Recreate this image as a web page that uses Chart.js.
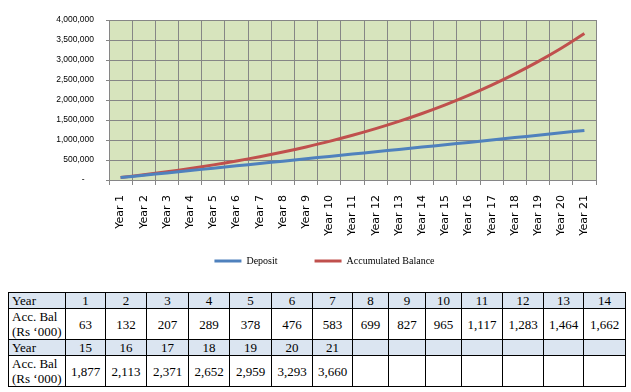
<!DOCTYPE html>
<html>
<head>
<meta charset="utf-8">
<script src="https://cdn.jsdelivr.net/npm/chart.js@4/dist/chart.umd.min.js"></script>
<style>
  html, body { margin: 0; padding: 0; background: #fff; }
  #wrap { position: absolute; left: 0; top: 0; width: 631px; height: 300px; }
  #tbl {
    position: absolute; left: 8px; top: 292px; width: 617px;
    border-collapse: collapse; table-layout: fixed;
    font-family: "Liberation Serif", "Times New Roman", serif; font-size: 13px; color: #000;
    background: #fff; z-index: 2;
  }
  #tbl td { border: 1px solid #000; padding: 0; text-align: center; line-height: 15px; white-space: nowrap; overflow: hidden; }
  #tbl td.lbl { text-align: left; padding-left: 3px; }
  #tbl tr.hdr td { background: #DBE5F1; height: 14px; }
  #tbl tr.val td { height: 30px; }
  #tbl tr.val2 td { height: 29px; }
</style>
</head>
<body>
<div id="wrap"><canvas id="c" width="631" height="300"></canvas></div>
<table id="tbl"></table>
<script>
const years = ["Year 1","Year 2","Year 3","Year 4","Year 5","Year 6","Year 7","Year 8","Year 9","Year 10","Year 11","Year 12","Year 13","Year 14","Year 15","Year 16","Year 17","Year 18","Year 19","Year 20","Year 21"];
const deposit = [60000,118000,177000,236000,295000,354000,413000,470000,530000,590000,648000,706000,765000,825000,880000,940000,1000000,1060000,1120000,1180000,1240000];
const accBalance = [63000,132000,207000,289000,378000,476000,583000,699000,827000,965000,1117000,1283000,1464000,1662000,1877000,2113000,2371000,2652000,2959000,3293000,3660000];
const yTicks = [0,500000,1000000,1500000,2000000,2500000,3000000,3500000,4000000];
const tableYears = [1,2,3,4,5,6,7,8,9,10,11,12,13,14,15,16,17,18,19,20,21];
const tableRowLabel = "Year";
const tableValLabel = ["Acc. Bal", "(Rs \u2018000)"];

// Table
(function(){
  const tbl = document.getElementById('tbl');
  const widths = [57,40,41,42,41,42,41,40,36,37,36,41,41,40,42];
  const cg = document.createElement('colgroup');
  widths.forEach(w => { const c = document.createElement('col'); c.style.width = w + 'px'; cg.appendChild(c); });
  tbl.appendChild(cg);
  const perRow = 14;
  for (let start = 0, r = 0; start < tableYears.length; start += perRow, r++) {
    const hr = document.createElement('tr'); hr.className = 'hdr';
    const vr = document.createElement('tr'); vr.className = r === 0 ? 'val' : 'val2';
    let td = document.createElement('td'); td.className = 'lbl'; td.textContent = tableRowLabel; hr.appendChild(td);
    td = document.createElement('td'); td.className = 'lbl'; td.innerHTML = tableValLabel[0] + '<br>' + tableValLabel[1]; vr.appendChild(td);
    for (let i = start; i < start + perRow; i++) {
      const h = document.createElement('td');
      const v = document.createElement('td');
      if (i < tableYears.length) {
        h.textContent = tableYears[i];
        v.textContent = Math.round(accBalance[i] / 1000).toLocaleString('en-US');
      }
      hr.appendChild(h); vr.appendChild(v);
    }
    tbl.appendChild(hr); tbl.appendChild(vr);
  }
})();

const bgPlugin = {
  id: 'plotBg',
  beforeDraw(chart) {
    const {ctx, chartArea: {left, top, width, height}} = chart;
    ctx.save();
    ctx.fillStyle = '#D7E4BD';
    ctx.fillRect(left, top, width, height);
    ctx.restore();
  }
};

// move legend box up so it sits close under the rotated labels
const legendShift = {
  id: 'legendShift',
  afterLayout(chart) {
    const lg = chart.legend;
    if (lg) { lg.top -= 24; lg.bottom -= 24; }
  }
};

new Chart(document.getElementById('c'), {
  type: 'line',
  data: {
    labels: years,
    datasets: [
      { label: 'Deposit', data: deposit, borderColor: '#4F81BD', backgroundColor: '#4F81BD', borderWidth: 3, pointRadius: 0, tension: 0.4, fill: false },
      { label: 'Accumulated Balance', data: accBalance, borderColor: '#C0504D', backgroundColor: '#C0504D', borderWidth: 3, pointRadius: 0, tension: 0.4, fill: false }
    ]
  },
  options: {
    responsive: false,
    animation: false,
    devicePixelRatio: 1,
    layout: { padding: { left: 18, top: 20, right: 0, bottom: 0 } },
    plugins: {
      tooltip: { enabled: false },
      legend: {
        position: 'bottom',
        labels: {
          boxWidth: 27, boxHeight: 3, padding: 37, color: '#000',
          font: { family: 'Liberation Serif', size: 10 },
          generateLabels(chart) {
            return Chart.defaults.plugins.legend.labels.generateLabels(chart).map(l => Object.assign({}, l, { fillStyle: l.strokeStyle, lineWidth: 0 }));
          }
        }
      }
    },
    scales: {
      x: {
        offset: true,
        grid: { offset: true, color: '#868686', tickLength: 5 },
        border: { color: '#868686' },
        ticks: { minRotation: 90, maxRotation: 90, autoSkip: false, padding: 10, color: '#000', font: { family: 'DejaVu Sans', size: 11 } },
        afterFit(s) { s.height = 63; }
      },
      y: {
        min: 0, max: 4000000,
        afterBuildTicks(s) { s.ticks = yTicks.map(v => ({ value: v })); },
        grid: { color: '#868686', tickLength: 3 },
        border: { color: '#868686' },
        ticks: {
          padding: 12, color: '#000', font: { family: 'Liberation Sans', size: 8.5 },
          callback: v => v === 0 ? '-    ' : Number(v).toLocaleString('en-US')
        },
        afterFit(s) { s.width = 91; }
      },
      yR: {
        position: 'right', display: true,
        grid: { display: false }, ticks: { display: false }, border: { display: false },
        afterFit(s) { s.width = 35; }
      }
    }
  },
  plugins: [bgPlugin, legendShift]
});
</script>
</body>
</html>
